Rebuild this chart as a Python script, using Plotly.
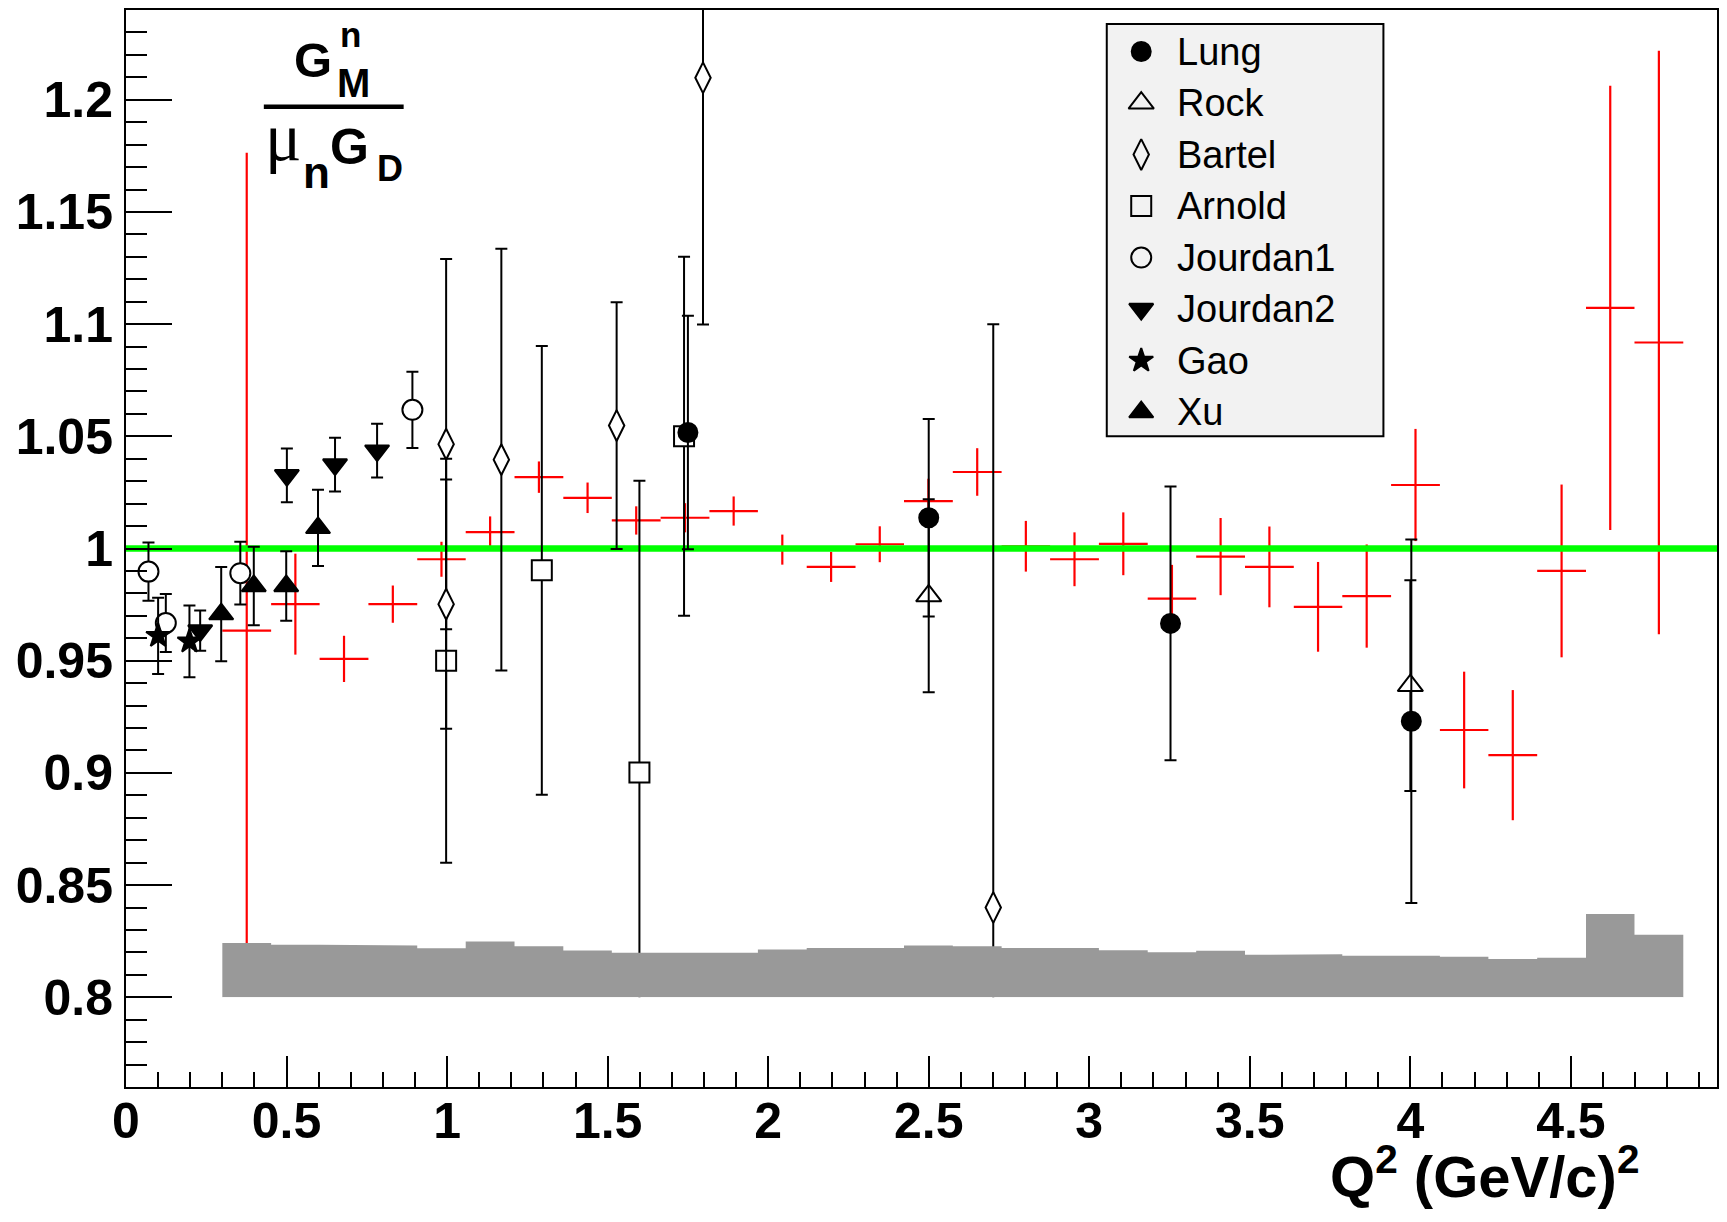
import plotly.graph_objects as go

# ---------------- data ----------------
# new measurement (red histogram-like points): bin edges, values, errors
bin_edges = [0.300, 0.452, 0.603, 0.755, 0.907, 1.058, 1.210, 1.362, 1.513, 1.665,
             1.817, 1.968, 2.120, 2.272, 2.423, 2.575, 2.727, 2.878, 3.030, 3.182,
             3.333, 3.485, 3.637, 3.788, 3.940, 4.092, 4.243, 4.395, 4.547, 4.698, 4.850]
new_ratio = [0.9634, 0.9752, 0.9508, 0.9752, 0.9952, 1.0073, 1.0318, 1.0226, 1.0125, 1.0137,
             1.0167, 0.9995, 0.9918, 1.0019, 1.0211, 1.0341, 1.0010, 0.9952, 1.0021, 0.9777,
             0.9964, 0.9918, 0.9740, 0.9788, 1.0283, 0.9191, 0.9079, 0.9900, 1.1072, 1.0918]
new_err_up = [0.213, 0.0225, 0.0103, 0.0083, 0.0078, 0.0070, 0.0070, 0.0068, 0.0063, 0.0065,
              0.0065, 0.0067, 0.0067, 0.0080, 0.0100, 0.0106, 0.0113, 0.0120, 0.0140, 0.0150,
              0.0172, 0.0180, 0.0200, 0.0230, 0.0250, 0.0260, 0.0290, 0.0385, 0.0990, 0.1300]
new_err_dn = [0.150, 0.0225, 0.0103, 0.0083, 0.0078, 0.0070, 0.0070, 0.0068, 0.0063, 0.0065,
              0.0065, 0.0067, 0.0067, 0.0080, 0.0100, 0.0106, 0.0113, 0.0120, 0.0140, 0.0150,
              0.0172, 0.0180, 0.0200, 0.0230, 0.0250, 0.0260, 0.0290, 0.0385, 0.0990, 0.1300]
# systematic band (top of grey histogram, base at 0.8)
band_base = 0.8
band_top = [0.8242, 0.8234, 0.8234, 0.8231, 0.8218, 0.8248, 0.8227, 0.8208, 0.8198, 0.8198,
            0.8198, 0.8213, 0.8219, 0.8219, 0.8231, 0.8227, 0.8219, 0.8219, 0.8210, 0.8201,
            0.8207, 0.8189, 0.8192, 0.8185, 0.8185, 0.8180, 0.8171, 0.8176, 0.8371, 0.8279]

# world data
lung_x = [1.750, 2.500, 3.253, 4.003]
lung_y = [1.0517, 1.0137, 0.9666, 0.9230]
lung_e = [0.052, 0.044, 0.061, 0.081]

rock_x = [2.500, 4.000]
rock_y = [0.9789, 0.9389]
rock_e = [0.043, 0.047]

bartel_x = [0.997, 0.997, 1.169, 1.528, 1.797, 2.701]
bartel_y = [1.0465, 0.9752, 1.0396, 1.0548, 1.2098, 0.8400]
bartel_e = [0.0825, 0.0555, 0.094, 0.055, 0.110, 0.260]

arnold_x = [0.997, 1.295, 1.599, 1.738]
arnold_y = [0.9500, 0.9903, 0.9002, 1.0500]
arnold_e = [0.090, 0.100, 0.130, 0.080]

jourdan1_x = [0.070, 0.124, 0.356, 0.892]
jourdan1_y = [0.9897, 0.9668, 0.9890, 1.0618]
jourdan1_e = [0.013, 0.0129, 0.014, 0.017]

jourdan2_x = [0.231, 0.501, 0.651, 0.782]
jourdan2_y = [0.9634, 1.0326, 1.0374, 1.0436]
jourdan2_e = [0.009, 0.012, 0.012, 0.012]

gao_x = [0.100, 0.1976]
gao_y = [0.9611, 0.9586]
gao_e = [0.017, 0.016]

xu_x = [0.2965, 0.398, 0.499, 0.598]
xu_y = [0.9708, 0.9833, 0.9833, 1.0092]
xu_e = [0.021, 0.0175, 0.0155, 0.017]

legend_names = ["Lung", "Rock", "Bartel", "Arnold", "Jourdan1", "Jourdan2", "Gao", "Xu"]

unity = 1.0
x_range = [0.0, 4.955]
y_range = [0.76, 1.24]
x_tickvals = [0, 0.5, 1, 1.5, 2, 2.5, 3, 3.5, 4, 4.5]
x_ticktext = ["0", "0.5", "1", "1.5", "2", "2.5", "3", "3.5", "4", "4.5"]
y_tickvals = [0.8, 0.85, 0.9, 0.95, 1.0, 1.05, 1.1, 1.15, 1.2]
y_ticktext = ["0.8", "0.85", "0.9", "0.95", "1", "1.05", "1.1", "1.15", "1.2"]

# ---------------- styles ----------------
FONT = "Liberation Sans"
STYLE = {  # name: (symbol, size, fill)
    "Lung": ("circle", 19, "black"),
    "Rock": ("triangle-up", 22, "white"),
    "Bartel": ("diamond-tall", 22, "white"),
    "Arnold": ("square", 20, "white"),
    "Jourdan1": ("circle", 20, "white"),
    "Jourdan2": ("triangle-down", 21, "black"),
    "Gao": ("star", 18, "black"),
    "Xu": ("triangle-up", 21, "black"),
}

L, R, T, B = 126, 8, 8, 135
W, H = 1727, 1222
PW, PH = W - L - R, H - T - B

def px(X):
    return (X - L) / PW

def py(Y):
    return (H - B - Y) / PH

fig = go.Figure()

# red points (new data)
centers = [(a + b) / 2 for a, b in zip(bin_edges[:-1], bin_edges[1:])]
halfw = [(b - a) / 2 for a, b in zip(bin_edges[:-1], bin_edges[1:])]
fig.add_trace(go.Scatter(
    x=centers, y=new_ratio, mode="markers", showlegend=False,
    marker=dict(size=1, color="rgba(0,0,0,0)"),
    error_x=dict(type="data", array=halfw, symmetric=True, color="#ff0000", thickness=2.2, width=0),
    error_y=dict(type="data", array=new_err_up, arrayminus=new_err_dn, symmetric=False,
                 color="#ff0000", thickness=2.2, width=0),
))

# unity line
fig.add_trace(go.Scatter(x=x_range, y=[unity, unity], mode="lines", showlegend=False,
                         line=dict(color="#00ff00", width=6.5)))

def series(name, xs, ys, es):
    sym, size, fill = STYLE[name]
    fig.add_trace(go.Scatter(
        x=xs, y=ys, mode="markers", name=name, showlegend=False,
        marker=dict(symbol=sym, size=size, color=fill, line=dict(color="black", width=2)),
        error_y=dict(type="data", array=es, color="black", thickness=2, width=6),
    ))

series("Arnold", arnold_x, arnold_y, arnold_e)
series("Bartel", bartel_x, bartel_y, bartel_e)
series("Rock", rock_x, rock_y, rock_e)
series("Jourdan1", jourdan1_x, jourdan1_y, jourdan1_e)
series("Jourdan2", jourdan2_x, jourdan2_y, jourdan2_e)
series("Gao", gao_x, gao_y, gao_e)
series("Xu", xu_x, xu_y, xu_e)
series("Lung", lung_x, lung_y, lung_e)

# grey systematic band
bx, by = [bin_edges[0]], [band_base]
for i, t in enumerate(band_top):
    bx += [bin_edges[i], bin_edges[i + 1]]
    by += [t, t]
bx.append(bin_edges[-1]); by.append(band_base)
fig.add_trace(go.Scatter(x=bx, y=by, mode="lines", fill="toself", fillcolor="#999999",
                         line=dict(width=0, color="#999999"), showlegend=False, hoverinfo="skip"))
# white area below the band
fig.add_trace(go.Scatter(x=[bin_edges[0], bin_edges[-1], bin_edges[-1], bin_edges[0]],
                         y=[y_range[0], y_range[0], band_base, band_base],
                         mode="lines", fill="toself", fillcolor="white",
                         line=dict(width=0, color="white"), showlegend=False, hoverinfo="skip"))

# ---------------- legend (box + symbols on an overlay [0,1] axis + text) ----------------
LEG_X0, LEG_Y0, LEG_X1, LEG_Y1 = 1108, 22, 1385, 435
ROW0, ROW_STEP = 49.6, 51.6
SYM_X, TXT_X = 1142.5, 1176
fig.add_shape(type="rect", xref="paper", yref="paper", layer="below",
              x0=px(LEG_X0), x1=px(LEG_X1), y0=py(LEG_Y1), y1=py(LEG_Y0),
              fillcolor="#f2f2f2", line=dict(color="black", width=2))
for i, name in enumerate(legend_names):
    sym, size, fill = STYLE[name]
    Yc = ROW0 + ROW_STEP * i
    fig.add_trace(go.Scatter(
        x=[px(SYM_X)], y=[py(Yc)], xaxis="x2", yaxis="y2", mode="markers",
        showlegend=False, hoverinfo="skip",
        marker=dict(symbol=sym, size=size, color=fill if fill == "black" else "#f2f2f2",
                    line=dict(color="black", width=2)),
    ))
    fig.add_annotation(text=name, xref="paper", yref="paper", x=px(TXT_X), y=py(Yc),
                       xanchor="left", yanchor="middle", showarrow=False,
                       font=dict(family=FONT, size=38, color="black"))

# ---------------- layout ----------------
fig.update_layout(
    width=W, height=H,
    margin=dict(l=L, r=R, t=T, b=B, pad=0),
    paper_bgcolor="white", plot_bgcolor="white",
    font=dict(family=FONT, color="black"),
    showlegend=False,
    xaxis=dict(range=x_range, showgrid=False, zeroline=False,
               showline=True, linecolor="black", linewidth=2, mirror=True,
               tickmode="array", tickvals=x_tickvals, ticktext=x_ticktext,
               ticks="inside", ticklen=31, tickwidth=2, tickcolor="black",
               tickfont=dict(family=FONT, size=50, weight="bold", color="black"),
               ticklabelstandoff=-11,
               minor=dict(ticks="inside", ticklen=15, tickwidth=2, tickcolor="black",
                          tick0=0, dtick=0.1)),
    yaxis=dict(range=y_range, showgrid=False, zeroline=False,
               showline=True, linecolor="black", linewidth=2, mirror=True,
               tickmode="array", tickvals=y_tickvals, ticktext=y_ticktext,
               ticks="inside", ticklen=46, tickwidth=2, tickcolor="black",
               tickfont=dict(family=FONT, size=50, weight="bold", color="black"),
               ticklabelstandoff=1,
               minor=dict(ticks="inside", ticklen=21, tickwidth=2, tickcolor="black",
                          tick0=0.76, dtick=0.01)),
    xaxis2=dict(overlaying="x", range=[0, 1], visible=False, fixedrange=True),
    yaxis2=dict(overlaying="y", range=[0, 1], visible=False, fixedrange=True),
)

def label(text, X, Ybase, size, bold=True, family=FONT, k=0.35):
    fig.add_annotation(
        text=text, xref="paper", yref="paper", x=px(X), y=py(Ybase - k * size),
        xanchor="left", yanchor="middle", showarrow=False,
        font=dict(family=family, size=size, color="black", weight="bold" if bold else "normal"),
    )

# y-axis "title" drawn as a fraction
label("G", 292, 75, 49)
label("n", 338, 45, 35)
label("M", 335, 95, 40)
fig.add_shape(type="line", xref="paper", yref="paper",
              x0=px(264), x1=px(404), y0=py(105), y1=py(105),
              line=dict(color="black", width=4.5))
label("\u03bc", 263, 158, 68, bold=False, family="Liberation Serif", k=0.3375)
label("n", 301, 186, 44)
label("G", 328, 163, 50)
label("D", 375, 179, 36)

# x-axis title
fig.add_annotation(text="<b>Q<sup>2</sup>\u00a0(GeV/c)<sup>2</sup></b>", xref="paper", yref="paper",
                   x=px(1643), y=py(1211), xanchor="right", yanchor="bottom", showarrow=False,
                   font=dict(family=FONT, size=58, color="black"))

fig.write_html("out.html")
